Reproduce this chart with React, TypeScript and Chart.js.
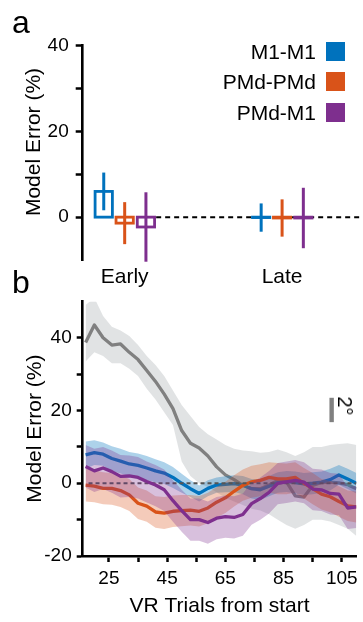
import React, { useEffect, useRef } from "react";
import { Chart, registerables } from "chart.js";
Chart.register(...registerables);

const FONT = "'Liberation Sans', Arial, Helvetica, sans-serif";

// ---------- Panel a data ----------
const seriesNames = ["M1-M1", "PMd-PMd", "PMd-M1"];
const seriesColors = ["#0072BD", "#D95319", "#7E2F8E"];
const phases = ["Early", "Late"];
const phasePos = [1, 2];
const earlyMean = [6.0, -1.4, -2.3];
const earlyErr = [4.4, 4.9, 8.1];
const lateMean = [-0.1, -0.2, -0.2];
const lateErr = [3.3, 4.35, 7.05];
const groupOffset = [-0.133, 0, 0.135];
const aYTicks = [0, 10, 20, 30, 40];
const aYLabels = [0, 20, 40];

// ---------- Panel b data ----------
const trials = [17, 20, 23, 26, 29, 32, 35, 38, 41, 44, 47, 50, 53, 56, 59, 62, 65, 68, 71, 74, 77, 80, 83, 86, 89, 92, 95, 98, 101, 104, 107, 110];
const grayMean = [38.7, 43.5, 40, 38, 38.3, 36, 34, 31, 28, 24.5, 20.5, 14.5, 11, 9.7, 7.5, 4.5, 2.3, 1, -0.6, -1.5, -1.5, -0.5, 0.8, 0.4, -3.5, -3.8, -0.6, 0.2, 0.3, 0.1, -0.4, -1.5];
const grayUpper = [49, 51, 46, 43, 42, 40.5, 38, 35, 32.5, 29.5, 25.5, 21.5, 18.5, 15.5, 13.5, 12, 10.5, 9.5, 9, 8.8, 8.4, 8.6, 9.3, 8.5, 7.5, 8.5, 10, 10, 10.5, 10.8, 11, 10.5];
const grayLower = [33.5, 36, 35, 33, 33, 31.5, 29.5, 26, 23, 19.5, 16, 6, 2, 0, -1, -2.5, -4, -5, -6, -7, -7.5, -8.5, -10, -11.5, -12.5, -11.5, -10, -10, -10.5, -11.5, -12.5, -14.5];
const blueMean = [7.8, 8.4, 8, 6.8, 6.1, 5.3, 4.9, 4.2, 3.4, 2.8, 1.6, 0, -1.5, -2.8, -1.4, -0.5, -0.3, -0.1, -0.5, -1.5, -1.8, -0.8, 0.2, 0.5, 0.2, -0.2, 0, 0.3, 1, 2.3, 1.2, 0];
const blueUpper = [11.5, 11.8, 11.2, 10.2, 9.5, 8.6, 8.2, 7.5, 6.6, 5.8, 4.5, 2.6, 0.8, -0.6, 0.8, 1.6, 1.9, 2.2, 2, 1.2, 1, 2, 3, 3.4, 3.2, 2.8, 3, 3.2, 4, 5, 4, 2.8];
const blueLower = [4, 5, 4.8, 3.4, 2.7, 2, 1.6, 0.9, 0.2, -0.2, -1.3, -2.6, -3.8, -5, -3.6, -2.6, -2.5, -2.4, -3, -4.2, -4.6, -3.6, -2.6, -2.4, -2.8, -3.2, -3, -2.6, -2, -0.4, -1.6, -2.8];
const orangeMean = [-0.5, -0.8, -1.4, -1.4, -2, -3.2, -5.5, -6.3, -7.9, -8.2, -7.7, -7.5, -7.4, -7.7, -6.8, -5.2, -4, -2.2, -0.6, 0.4, 0.8, 1.6, 1.2, 1.2, 1.6, 0, -1.5, -3, -3.7, -5, -6.2, -6.5];
const orangeUpper = [4, 3.6, 3, 2.8, 2.2, 1.2, -1.2, -2, -3.6, -3.8, -3.4, -3.2, -3.2, -3.5, -2.6, -1, 0.4, 2.2, 3.8, 4.8, 5.2, 5.8, 5.6, 5.4, 5.8, 4.2, 2.8, 1.2, 0.6, -0.8, -2, -2.3];
const orangeLower = [-5, -5.2, -5.8, -5.9, -6.5, -7.6, -9.8, -10.6, -12.2, -12.6, -12, -11.8, -11.6, -11.9, -11, -9.4, -8.2, -6.4, -4.8, -4, -3.6, -2.6, -3, -3, -2.6, -4.2, -5.8, -7.2, -8, -9.2, -10.4, -10.8];
const purpleMean = [4.6, 3.4, 4.2, 3.2, 1.9, 2, 1.6, 0.5, -0.5, -1.8, -4.8, -7.5, -10, -10, -10.8, -9.6, -9.2, -9.4, -8.6, -5.6, -4.2, -2.5, 0, 0.4, 0.8, 0.3, -1.6, -1.8, -2.8, -3, -6.8, -6.5];
const purpleUpper = [10.5, 9.5, 10, 9, 7.8, 7.6, 7.2, 6, 5, 3.8, 0.8, -1.8, -4.2, -4.2, -5, -3.8, -3.4, -3.6, -2.8, 0.2, 1.6, 3.4, 5.6, 6, 6.4, 5.8, 4, 3.8, 2.8, 2.6, -1, -0.7];
const purpleLower = [-1.2, -2.4, -1.6, -2.6, -3.9, -3.8, -4.2, -5.3, -6.3, -7.6, -10.6, -13.3, -15.8, -15.8, -16.6, -15.4, -15, -15.2, -14.4, -11.4, -10, -8.3, -5.8, -5.4, -5, -5.5, -7.4, -7.6, -8.6, -8.8, -12.6, -12.3];
const bXTicks = [25, 35, 45, 55, 65, 75, 85, 95, 105];
const bXLabels = [25, 45, 65, 85, 105];
const bYTicks = [-20, -10, 0, 10, 20, 30, 40];
const bYLabels = [-20, 0, 20, 40];
const scaleBarX = 101.5;
const scaleBarRange = [16.8, 23.5];

const pts = (ys: number[]) => ys.map((y, i) => ({ x: trials[i], y }));

const boxPlugin = {
  id: "boxes",
  afterDatasetsDraw(chart: any) {
    const { ctx, scales } = chart;
    const xs = scales.x, ys = scales.y;
    const w = 17.3;
    ctx.save();
    [earlyMean, lateMean].forEach((means, p) => {
      const errs = p === 0 ? earlyErr : lateErr;
      means.forEach((m, i) => {
        const cx = xs.getPixelForValue(phasePos[p] + groupOffset[i]);
        const y0 = ys.getPixelForValue(0);
        const ym = ys.getPixelForValue(m);
        ctx.fillStyle = "#fff";
        ctx.fillRect(cx - w / 2, Math.min(y0, ym), w, Math.abs(ym - y0));
        ctx.strokeStyle = seriesColors[i];
        ctx.lineWidth = 2.8;
        ctx.strokeRect(cx - w / 2, Math.min(y0, ym), w, Math.max(Math.abs(ym - y0), 0.3));
        ctx.lineWidth = 3;
        ctx.beginPath();
        ctx.moveTo(cx, ys.getPixelForValue(m + errs[i]));
        ctx.lineTo(cx, ys.getPixelForValue(m - errs[i]));
        ctx.stroke();
      });
    });
    ctx.restore();
  },
};

const scaleBarPlugin = {
  id: "scalebar",
  afterDatasetsDraw(chart: any) {
    const { ctx, scales } = chart;
    const x = scales.x.getPixelForValue(scaleBarX);
    const yTop = scales.y.getPixelForValue(scaleBarRange[1]);
    const yBot = scales.y.getPixelForValue(scaleBarRange[0]);
    ctx.save();
    ctx.fillStyle = "#808080";
    ctx.fillRect(x - 2.2, yTop, 4.4, yBot - yTop);
    ctx.restore();
  },
};

function configA(): any {
  return {
    type: "line",
    data: {
      datasets: [
        {
          data: [{ x: 1.2, y: 0 }, { x: 2.514, y: 0 }],
          borderColor: "#000",
          borderWidth: 2,
          borderDash: [5, 4],
          pointRadius: 0,
        },
      ],
    },
    options: {
      responsive: false,
      animation: false,
      events: [],
      layout: { padding: { top: 45.7, right: 0, bottom: 0, left: 0 } },
      plugins: { legend: { display: false }, tooltip: { enabled: false } },
      scales: {
        x: {
          type: "linear",
          min: 0.7333,
          max: 2.514,
          afterBuildTicks: (s: any) => { s.ticks = phasePos.map((v) => ({ value: v })); },
          afterFit: (s: any) => { s.height = 40; },
          ticks: {
            autoSkip: false,
            maxRotation: 0,
            padding: -3,
            color: "#000",
            font: { family: FONT, size: 21 },
            callback: (_v: any, i: number) => phases[i],
          },
          grid: { display: false },
          border: { display: false },
        },
        y: {
          type: "linear",
          min: -10,
          max: 40,
          afterBuildTicks: (s: any) => { s.ticks = aYTicks.map((v) => ({ value: v })); },
          afterFit: (s: any) => { s.width = 82.7; },
          ticks: {
            padding: 7,
            color: "#000",
            font: { family: FONT, size: 19 },
            callback: (v: number) => (aYLabels.includes(v) ? String(v) : ""),
          },
          grid: { drawOnChartArea: false, drawTicks: true, tickLength: 7, tickWidth: 2.5, tickColor: "#000" },
          border: { display: true, color: "#000", width: 2.6 },
        },
      },
    },
    plugins: [boxPlugin],
  };
}

function configB(): any {
  const band = (lower: number[], upper: number[], color: string) => [
    { data: pts(lower), borderWidth: 0, pointRadius: 0, fill: false },
    { data: pts(upper), borderWidth: 0, pointRadius: 0, fill: "-1", backgroundColor: color },
  ];
  const line = (mean: number[], color: string) => ({
    data: pts(mean),
    borderColor: color,
    borderWidth: 3.3,
    pointRadius: 0,
    fill: false,
    borderJoinStyle: "round",
  });
  const drawOrder: any[] = [
    ...band(grayLower, grayUpper, "rgba(220,222,223,0.85)"),
    line(grayMean, "#808080"),
    ...band(blueLower, blueUpper, "rgba(0,114,189,0.32)"),
    line(blueMean, seriesColors[0]),
    ...band(orangeLower, orangeUpper, "rgba(217,83,25,0.3)"),
    line(orangeMean, seriesColors[1]),
    {
      data: [{ x: 18, y: 0 }, { x: 110, y: 0 }],
      borderColor: "#555",
      borderWidth: 2,
      borderDash: [4, 3],
      pointRadius: 0,
      fill: false,
    },
    ...band(purpleLower, purpleUpper, "rgba(126,47,142,0.3)"),
    line(purpleMean, seriesColors[2]),
  ];
  const datasets = drawOrder.map((d, i) => ({ ...d, order: drawOrder.length - i }));
  return {
    type: "line",
    data: { datasets },
    options: {
      responsive: false,
      animation: false,
      events: [],
      layout: { padding: { top: 9, right: 6, bottom: 0, left: 0 } },
      plugins: { legend: { display: false }, tooltip: { enabled: false } },
      scales: {
        x: {
          type: "linear",
          min: 16,
          max: 110,
          afterBuildTicks: (s: any) => { s.ticks = bXTicks.map((v) => ({ value: v })); },
          afterFit: (s: any) => { s.height = 66; },
          ticks: {
            autoSkip: false,
            maxRotation: 0,
            padding: 5,
            color: "#000",
            font: { family: FONT, size: 19 },
            callback: (v: number) => (bXLabels.includes(v) ? String(v) : ""),
          },
          grid: { drawOnChartArea: false, drawTicks: true, tickLength: 6, tickWidth: 2.5, tickColor: "#000" },
          border: { display: true, color: "#000", width: 2.6 },
          title: {
            display: true,
            text: "VR Trials from start",
            color: "#000",
            font: { family: FONT, size: 21 },
            padding: { top: 0, bottom: 3 },
          },
        },
        y: {
          type: "linear",
          min: -20,
          max: 50,
          afterBuildTicks: (s: any) => { s.ticks = bYTicks.map((v) => ({ value: v })); },
          afterFit: (s: any) => { s.width = 82.7; },
          ticks: {
            padding: 5,
            color: "#000",
            font: { family: FONT, size: 19 },
            callback: (v: number) => (bYLabels.includes(v) ? String(v) : ""),
          },
          grid: { drawOnChartArea: false, drawTicks: true, tickLength: 6, tickWidth: 2.5, tickColor: "#000" },
          border: { display: true, color: "#000", width: 2.6 },
          title: {
            display: true,
            text: "Model Error (%)",
            color: "#000",
            font: { family: FONT, size: 21 },
            padding: { top: 23, bottom: 0 },
          },
        },
      },
    },
    plugins: [scaleBarPlugin],
  };
}

const legendRows = [51.7, 81.5, 112.5];

export default function App() {
  const refA = useRef<HTMLCanvasElement>(null);
  const refB = useRef<HTMLCanvasElement>(null);
  useEffect(() => {
    const a = new Chart(refA.current as HTMLCanvasElement, configA());
    const b = new Chart(refB.current as HTMLCanvasElement, configB());
    return () => {
      a.destroy();
      b.destroy();
    };
  }, []);
  const abs: React.CSSProperties = { position: "absolute", whiteSpace: "nowrap" };
  return (
    <div
      style={{
        position: "fixed",
        left: 0,
        top: 0,
        width: 363,
        height: 622,
        background: "#fff",
        fontFamily: FONT,
        color: "#000",
        overflow: "hidden",
      }}
    >
      <canvas ref={refA} width={363} height={300} style={{ position: "absolute", left: 0, top: 0 }} />
      <canvas ref={refB} width={363} height={337} style={{ position: "absolute", left: 0, top: 285 }} />
      <div style={{ ...abs, left: 12, top: 6, fontSize: 32, lineHeight: "32px" }}>a</div>
      <div style={{ ...abs, left: 12, top: 266, fontSize: 32, lineHeight: "32px" }}>b</div>
      <div
        style={{
          ...abs,
          left: 31.7,
          top: 142,
          fontSize: 21,
          lineHeight: "21px",
          transform: "translate(-50%, -50%) rotate(-90deg)",
        }}
      >
        Model Error (%)
      </div>
      {seriesNames.map((name, i) => (
        <React.Fragment key={name}>
          <div
            style={{
              ...abs,
              right: 363 - 316,
              top: legendRows[i] - 10.5,
              fontSize: 21,
              lineHeight: "21px",
              textAlign: "right",
            }}
          >
            {name}
          </div>
          <div
            style={{
              position: "absolute",
              left: 326,
              top: legendRows[i] - 9.5,
              width: 19,
              height: 19,
              background: seriesColors[i],
            }}
          />
        </React.Fragment>
      ))}
      <div
        style={{
          ...abs,
          left: 345,
          top: 406,
          fontSize: 20,
          lineHeight: "20px",
          transform: "translate(-50%, -50%) rotate(90deg)",
        }}
      >
        2°
      </div>
    </div>
  );
}
